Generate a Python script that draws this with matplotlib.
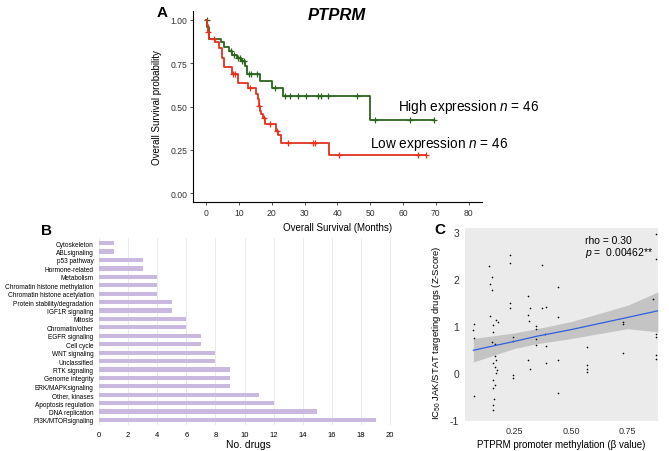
import numpy as np
from matplotlib import pyplot as plt

plt.rcParams['font.family'] = ['Liberation Sans', 'DejaVu Sans']
plt.rcParams['axes.unicode_minus'] = False
plt.rcParams['mathtext.fontset'] = 'custom'
plt.rcParams['mathtext.rm'] = 'Liberation Sans'
plt.rcParams['mathtext.it'] = 'Liberation Sans:italic'

# Panel A: Kaplan-Meier steps (time in months, survival after step)
hi_t = [0, 0.3, 0.8, 4.5, 5.5, 7.0, 8.0, 9.5, 10.5, 12.0, 12.5, 16.5, 20.0, 23.5, 50.0, 69.5]
hi_s = [1.0, 0.96, 0.89, 0.87, 0.845, 0.82, 0.80, 0.78, 0.76, 0.735, 0.69, 0.65, 0.61, 0.56, 0.42, 0.42]
hi_cens = [0.2, 7.5, 8.5, 9.8, 10.2, 11.0, 11.5, 13.0, 13.8, 15.5, 21.0, 24.0, 25.5,
           28.0, 30.5, 34.0, 35.0, 37.0, 46.0, 51.5, 62.0, 69.5]

lo_t = [0, 0.2, 0.5, 0.8, 2.8, 4.0, 4.9, 5.4, 7.9, 9.7, 12.7, 15.3, 15.7, 16.0, 16.3,
        16.7, 17.2, 17.8, 21.4, 21.8, 22.7, 37.6, 67.1]
lo_s = [1.0, 0.97, 0.93, 0.89, 0.87, 0.84, 0.78, 0.73, 0.685, 0.635, 0.61, 0.575, 0.545,
        0.505, 0.475, 0.455, 0.435, 0.40, 0.36, 0.335, 0.29, 0.22, 0.22]
lo_cens = [0.5, 2.5, 8.2, 8.8, 13.3, 16.0, 17.6, 19.5, 21.6, 25.0, 32.5, 33.2, 40.5, 64.5, 67.1]

# Panel B: drug counts per pathway (top to bottom)
pathways = ['Cytoskeleton', 'ABLsignaling', 'p53 pathway', 'Hormone-related', 'Metabolism',
            'Chromatin histone methylation', 'Chromatin histone acetylation',
            'Protein stability/degradation', 'IGF1R signaling', 'Mitosis', 'Chromatin/other',
            'EGFR signaling', 'Cell cycle', 'WNT signaling', 'Unclassified', 'RTK signaling',
            'Genome integrity', 'ERK/MAPKsignaling', 'Other, kinases', 'Apoptosis regulation',
            'DNA replication', 'PI3K/MTORsignaling']
n_drugs = [1, 1, 3, 3, 4, 4, 4, 5, 5, 6, 6, 7, 7, 8, 8, 9, 9, 9, 11, 12, 15, 19]

# Panel C: methylation vs IC50 z-score
meth = [0.071, 0.071, 0.071, 0.068, 0.139, 0.152, 0.142, 0.150, 0.142, 0.167, 0.178, 0.157,
        0.157, 0.150, 0.165, 0.157, 0.165, 0.172, 0.170, 0.157, 0.165, 0.157, 0.160, 0.155,
        0.157, 0.162, 0.168, 0.230, 0.230, 0.230, 0.230, 0.245, 0.245, 0.245, 0.245, 0.311,
        0.320, 0.311, 0.314, 0.311, 0.320, 0.345, 0.345, 0.345, 0.345, 0.370, 0.370, 0.390,
        0.385, 0.390, 0.390, 0.444, 0.444, 0.444, 0.444, 0.572, 0.572, 0.572, 0.572, 0.729,
        0.729, 0.729, 0.861, 0.875, 0.875, 0.875, 0.875, 0.875, 0.875]
zscore = [1.04, 0.75, -0.50, 0.91, 2.27, 2.03, 1.90, 1.77, 1.21, 1.13, 1.08, 1.01,
          0.87, 0.66, 0.62, 0.20, 0.13, 0.06, -0.01, -0.16, -0.26, -0.33, -0.55, -0.69,
          -0.79, 0.35, 0.28, 2.50, 2.34, 1.49, 1.38, 0.77, 0.68, -0.05, -0.12, 1.63,
          1.39, 1.23, 1.10, 0.27, 0.09, 0.99, 0.94, 0.73, 0.60, 2.29, 1.39, 1.40,
          0.82, 0.57, 0.20, 1.83, 1.18, 0.28, -0.44, 0.55, 0.16, 0.09, 0.02, 1.09,
          1.04, 0.43, 1.58, 2.43, 2.95, 0.82, 0.77, 0.38, 0.29]
fit_x = [0.068, 0.25, 0.35, 0.50, 0.75, 0.883]
fit_y = [0.48, 0.67, 0.78, 0.92, 1.18, 1.32]
ci_lo = [0.23, 0.52, 0.62, 0.73, 0.94, 0.87]
ci_hi = [0.73, 0.85, 0.94, 1.09, 1.44, 1.72]

fig = plt.figure(figsize=(6.69, 4.52), dpi=100)

# ---- A ----
green = '#2b651c'
red = '#e4321e'
ax = fig.add_axes([0.2885, 0.551, 0.4315, 0.422])
for t, s, cens, col in [(hi_t, hi_s, hi_cens, green), (lo_t, lo_s, lo_cens, red)]:
    ax.step(t, s, where='post', color=col, lw=1.3)
    idx = np.searchsorted(t, cens, side='right') - 1
    ax.plot(cens, np.array(s)[idx], '+', color=col, ms=4, mew=0.9)
ax.set_xlim(-4, 84)
ax.set_ylim(-0.05, 1.05)
ax.set_xticks(np.arange(0, 81, 10))
ax.set_yticks([0, 0.25, 0.5, 0.75, 1.0])
ax.set_yticklabels(['0.00', '0.25', '0.50', '0.75', '1.00'])
ax.tick_params(labelsize=6.2, length=2, width=0.6, colors='#333333', pad=2)
for sp in ['top', 'right']:
    ax.spines[sp].set_visible(False)
for sp in ['left', 'bottom']:
    ax.spines[sp].set_linewidth(0.8)
ax.set_xlabel('Overall Survival (Months)', fontsize=7, labelpad=4)
ax.set_ylabel('Overall Survival probability', fontsize=7, labelpad=6)
ax.text(58.5, 0.48, 'High expression $\\it{n}$ = $\\it{46}$', fontsize=9.8, clip_on=False)
ax.text(50.0, 0.265, 'Low expression $\\it{n}$ = $\\it{46}$', fontsize=9.8, clip_on=False)
fig.text(0.504, 0.966, 'PTPRM', fontsize=12, fontweight='bold', fontstyle='italic',
         ha='center', va='center')
fig.text(0.243, 0.971, 'A', fontsize=11, fontweight='bold', ha='center', va='center')

# ---- B ----
bx = fig.add_axes([0.148, 0.0575, 0.446, 0.4135])
ypos = np.arange(len(pathways))[::-1]
bx.barh(ypos, n_drugs, height=0.5, color='#c9b9e0')
bx.set_yticks(ypos)
bx.set_yticklabels(pathways, fontsize=4.7)
bx.set_xlim(0, 20.5)
bx.set_ylim(-0.6, 21.6)
bx.set_xticks(np.arange(0, 21, 2))
bx.tick_params(axis='x', labelsize=5.5, length=0, pad=4)
bx.tick_params(axis='y', length=0, pad=4)
bx.grid(axis='x', color='#e6e6e6', lw=0.6)
bx.set_axisbelow(True)
for sp in bx.spines.values():
    sp.set_visible(False)
bx.set_xlabel('No. drugs', fontsize=7.5, labelpad=1)
fig.text(0.07, 0.49, 'B', fontsize=11, fontweight='bold', ha='center', va='center')

# ---- C ----
cx = fig.add_axes([0.695, 0.067, 0.289, 0.426])
cx.set_facecolor('#ebebeb')
cx.fill_between(fit_x, ci_lo, ci_hi, color='#c4c4c4', lw=0)
cx.plot(fit_x, fit_y, color='#2f5fe0', lw=0.9)
cx.scatter(meth, zscore, s=1.4, color='black', lw=0)
cx.set_xlim(0.031, 0.885)
cx.set_ylim(-1.02, 3.08)
cx.set_xticks([0.25, 0.5, 0.75])
cx.set_xticklabels(['0.25', '0.50', '0.75'])
cx.set_yticks([-1, 0, 1, 2, 3])
cx.tick_params(axis='x', labelsize=6.5, length=0, colors='#333333', pad=4)
cx.tick_params(axis='y', labelsize=7.5, length=0, colors='#333333', pad=4)
for sp in cx.spines.values():
    sp.set_visible(False)
cx.set_xlabel('PTPRM promoter methylation (\u03b2 value)', fontsize=7, labelpad=3)
cx.set_ylabel('IC$_{50}$ JAK/STAT targeting drugs (Z-Score)', fontsize=6.8, labelpad=3)
cx.yaxis.set_label_coords(-0.115, 0.46)
cx.text(0.56, 2.83, 'rho = 0.30', fontsize=7.5, va='center')
cx.text(0.56, 2.57, '$\\it{p}$ =  0.00462**', fontsize=7.5, va='center')
fig.text(0.658, 0.491, 'C', fontsize=11, fontweight='bold', ha='center', va='center')

fig.savefig('out.png', dpi=100)
